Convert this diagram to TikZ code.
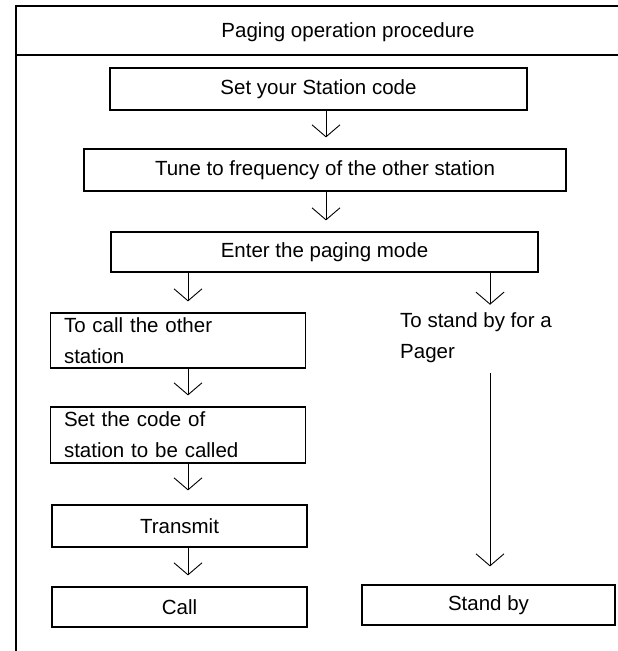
\documentclass[tikz,border=0pt]{standalone}
\usepackage{fontspec}
\setmainfont{Liberation Sans}
\usetikzlibrary{arrows.meta,positioning,calc}

\tikzset{
  stepbox/.style={draw,line width=1.2pt,minimum height=42pt,inner sep=0pt},
  leftbox/.style={stepbox,align=left,text width=228pt,minimum width=255pt,minimum height=55pt},
  flow/.style={line width=0.9pt,-{Straight Barb[length=12pt,width=28pt,line width=0.9pt]},shorten >=11pt}
}

\begin{document}
\begin{tikzpicture}[x=1pt,y=-1pt,font=\fontsize{20.5}{31}\selectfont]
\useasboundingbox (0,0) rectangle (618,651);
% frame and header
\draw[line width=1.4pt] (16,651) -- (16,6) -- (618,6);
\draw[line width=1.4pt] (16,55) -- (618,55);
\node (title) at (348,32) {Paging operation procedure};
% main column
\node[stepbox,minimum width=417pt] (setcode) at (318.5,89) {Set your Station code};
\node[stepbox,minimum width=482pt] (tune) at (325,170) {Tune to frequency of the other station};
\node[stepbox,minimum width=427pt,minimum height=40pt] (mode) at (324.5,252) {Enter the paging mode};
% left branch
\node[leftbox] (callother) at (178,340.5) {To call the other\\station};
\node[leftbox,minimum height=56pt] (setcalled) at (178,435) {Set the code of\\station to be called};
\node[stepbox,minimum width=255pt] (transmit) at (179.5,526) {Transmit};
\node[stepbox,minimum width=255pt,minimum height=40pt] (call) at (179.5,607) {Call};
% right branch
\node[align=left,anchor=west,inner sep=0pt] (pager) at (400,338) {To stand by for a\\Pager};
\node[stepbox,minimum width=253pt,minimum height=40pt] (standby) at (488.5,605) {Stand by};
% arrows
\coordinate (mid) at (326,0);
\coordinate (lft) at (188,0);
\coordinate (rgt) at (490,0);
\draw[flow] (setcode.south -| mid) -- (tune.north -| mid);
\draw[flow] (tune.south -| mid) -- (mode.north -| mid);
\draw[flow] (mode.south -| lft) -- (callother.north -| lft);
\draw[flow,shorten >=8pt] (mode.south -| rgt) -- (pager.north -| rgt);
\draw[flow] (callother.south -| lft) -- (setcalled.north -| lft);
\draw[flow,shorten >=14pt] (setcalled.south -| lft) -- (transmit.north -| lft);
\draw[flow] (transmit.south -| lft) -- (call.north -| lft);
\draw[flow,shorten <=10pt,shorten >=18pt] (pager.south -| rgt) -- (standby.north -| rgt);
\end{tikzpicture}
\end{document}
